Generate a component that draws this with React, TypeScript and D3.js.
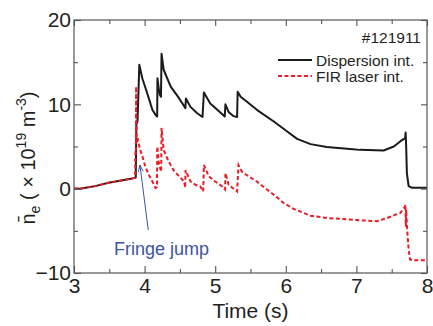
import { useEffect, useRef } from 'react';
import * as d3 from 'd3';

// ─── Data ───────────────────────────────────────────────────

const xTicks = [3, 4, 5, 6, 7, 8];
const xMinor = [3.5, 4.5, 5.5, 6.5, 7.5];
const yTicks = [-10, 0, 10, 20];
const yMinor = [-5, 5, 15];

// Dispersion interferometer (black)
const dispT = [3.0, 3.1, 3.3, 3.47, 3.65, 3.85, 3.875, 3.883, 3.9, 3.925, 3.967, 4.014, 4.06, 4.11, 4.155, 4.178, 4.182, 4.2, 4.216, 4.232, 4.24, 4.27, 4.37, 4.49, 4.578, 4.585, 4.65, 4.745, 4.82, 4.84, 4.93, 5.03, 5.135, 5.145, 5.19, 5.26, 5.31, 5.318, 5.36, 5.45, 5.59, 5.83, 6.02, 6.16, 6.35, 6.58, 6.91, 7.05, 7.385, 7.53, 7.62, 7.69, 7.697, 7.705, 7.715, 7.74, 7.79, 8.0];
const dispV = [0, 0.02, 0.3, 0.66, 0.95, 1.25, 1.35, 7.6, 8.0, 14.7, 13.1, 11.9, 10.7, 9.35, 8.75, 8.55, 13.1, 11.9, 11.1, 10.9, 16.0, 14.1, 12.1, 10.7, 9.55, 10.7, 9.7, 8.95, 8.5, 11.4, 10.1, 9.35, 8.55, 10.0, 9.1, 8.6, 8.5, 11.5, 10.9, 10.3, 9.35, 7.96, 6.78, 5.9, 5.28, 4.93, 4.69, 4.6, 4.53, 5.0, 5.6, 6.0, 6.66, 5.0, 1.85, 0.3, 0.1, 0.1];

// FIR laser interferometer (red dashed)
const firT = [3.0, 3.1, 3.3, 3.47, 3.65, 3.85, 3.866, 3.87, 3.876, 3.88, 3.885, 3.89, 3.9, 3.93, 3.97, 4.01, 4.06, 4.11, 4.155, 4.175, 4.18, 4.2, 4.215, 4.235, 4.24, 4.27, 4.32, 4.37, 4.41, 4.49, 4.56, 4.575, 4.58, 4.65, 4.72, 4.79, 4.83, 4.84, 4.91, 5.0, 5.1, 5.14, 5.145, 5.19, 5.31, 5.33, 5.38, 5.475, 5.59, 5.64, 5.83, 5.97, 6.11, 6.35, 6.6, 6.82, 7.05, 7.29, 7.43, 7.55, 7.62, 7.69, 7.695, 7.7, 7.705, 7.72, 7.74, 7.76, 7.8, 8.0];
const firV = [0, 0.02, 0.3, 0.66, 0.95, 1.25, 1.3, 4.5, 4.0, 12.1, 7.8, 5.5, 6.0, 4.8, 3.8, 2.6, 1.65, 0.85, 0.07, 0.2, 5.0, 3.2, 2.6, 2.0, 7.2, 4.6, 3.6, 2.8, 2.2, 1.45, 0.85, 0.1, 2.2, 0.86, 0.46, 0.26, -0.33, 2.8, 1.45, 0.85, 0.26, -0.1, 1.85, 0.46, -0.33, 2.8, 2.0, 1.45, 0.85, 0.5, -0.72, -1.7, -2.4, -3.2, -3.5, -3.6, -3.75, -3.85, -3.5, -3.1, -2.9, -2.1, -1.9, -4.5, -2.5, -5.0, -7.2, -8.4, -8.5, -8.5];

// ─── Constants ──────────────────────────────────────────────

const W = 433;
const H = 326;
const margin = { top: 20, right: 6, bottom: 53, left: 74 };
const FONT = '"Liberation Sans", Arial, Helvetica, sans-serif';
const AXIS_COLOR = '#555';
const TEXT_COLOR = '#231f20';
const BLACK = '#1a1a1a';
const RED = '#ec1c24';
const BLUE = '#3b53a4';

export default function App() {
  const svgRef = useRef<SVGSVGElement>(null);

  useEffect(() => {
    if (!svgRef.current) return;
    const svg = d3.select(svgRef.current);
    svg.selectAll('*').remove();

    const iw = W - margin.left - margin.right;
    const ih = H - margin.top - margin.bottom;

    const x = d3.scaleLinear().domain([3, 8]).range([0, iw]);
    const y = d3.scaleLinear().domain([-10, 20]).range([ih, 0]);

    const g = svg.append('g').attr('transform', `translate(${margin.left},${margin.top})`);

    const line = d3.line<[number, number]>()
      .x((d) => x(d[0]))
      .y((d) => y(d[1]));

    const disp = dispT.map((t, i) => [t, dispV[i]] as [number, number]);
    const fir = firT.map((t, i) => [t, firV[i]] as [number, number]);

    g.append('path')
      .datum(disp)
      .attr('fill', 'none')
      .attr('stroke', BLACK)
      .attr('stroke-width', 2)
      .attr('stroke-linejoin', 'round')
      .attr('d', line);

    g.append('path')
      .datum(fir)
      .attr('fill', 'none')
      .attr('stroke', RED)
      .attr('stroke-width', 2)
      .attr('stroke-dasharray', '4 2.5')
      .attr('d', line);

    // Axes (ticks inward, box mirrored)
    const styleAxis = (sel: d3.Selection<SVGGElement, unknown, null, undefined>) => {
      sel.select('.domain').remove();
      sel.selectAll('line').attr('stroke', AXIS_COLOR).attr('stroke-width', 1.1);
      sel.selectAll('text')
        .attr('fill', TEXT_COLOR)
        .attr('font-size', 21)
        .attr('font-family', FONT);
    };

    g.append('g').attr('transform', `translate(0,${ih})`)
      .call(d3.axisBottom(x).tickValues(xTicks).tickSize(-7).tickPadding(5).tickFormat(d3.format('d')))
      .call(styleAxis);
    g.append('g').attr('transform', `translate(0,${ih})`)
      .call(d3.axisBottom(x).tickValues(xMinor).tickSize(-4).tickFormat(() => ''))
      .call(styleAxis);
    g.append('g')
      .call(d3.axisTop(x).tickValues(xTicks).tickSize(-6).tickFormat(() => ''))
      .call(styleAxis);
    g.append('g')
      .call(d3.axisTop(x).tickValues(xMinor).tickSize(-4).tickFormat(() => ''))
      .call(styleAxis);

    g.append('g')
      .call(d3.axisLeft(y).tickValues(yTicks).tickSize(-7).tickPadding(3).tickFormat(d3.format('d')))
      .call(styleAxis);
    g.append('g')
      .call(d3.axisLeft(y).tickValues(yMinor).tickSize(-4).tickFormat(() => ''))
      .call(styleAxis);
    g.append('g').attr('transform', `translate(${iw},0)`)
      .call(d3.axisRight(y).tickValues(yTicks).tickSize(-6).tickFormat(() => ''))
      .call(styleAxis);
    g.append('g').attr('transform', `translate(${iw},0)`)
      .call(d3.axisRight(y).tickValues(yMinor).tickSize(-4).tickFormat(() => ''))
      .call(styleAxis);

    g.append('rect')
      .attr('x', 0).attr('y', 0)
      .attr('width', iw).attr('height', ih)
      .attr('fill', 'none')
      .attr('stroke', AXIS_COLOR)
      .attr('stroke-width', 1.2);

    // Axis titles
    svg.append('text')
      .attr('x', margin.left + iw / 2)
      .attr('y', 318)
      .attr('text-anchor', 'middle')
      .attr('font-family', FONT)
      .attr('font-size', 21)
      .attr('fill', TEXT_COLOR)
      .text('Time (s)');

    const yl = svg.append('text')
      .attr('transform', `translate(35,158) rotate(-90)`)
      .attr('text-anchor', 'middle')
      .attr('font-family', FONT)
      .attr('font-size', 20)
      .attr('fill', TEXT_COLOR);
    yl.append('tspan').text('n\u0304');
    yl.append('tspan').attr('font-size', 14).attr('dy', 5).text('e');
    yl.append('tspan').attr('dy', -5).text(' ( \u00d7 10');
    yl.append('tspan').attr('font-size', 14).attr('dy', -9).text('19');
    yl.append('tspan').attr('dy', 9).text(' m');
    yl.append('tspan').attr('font-size', 14).attr('dy', -9).text('-3');
    yl.append('tspan').attr('dy', 9).text(')');

    // Legend
    svg.append('text')
      .attr('x', 421).attr('y', 43)
      .attr('text-anchor', 'end')
      .attr('font-family', FONT).attr('font-size', 15.5)
      .attr('fill', TEXT_COLOR)
      .text('#121911');

    const legend = [
      { label: 'Dispersion int.', color: BLACK, dash: null, yy: 60 },
      { label: 'FIR laser int.', color: RED, dash: '4 2.5', yy: 76 },
    ];
    legend.forEach((l) => {
      svg.append('line')
        .attr('x1', 278).attr('x2', 312)
        .attr('y1', l.yy).attr('y2', l.yy)
        .attr('stroke', l.color)
        .attr('stroke-width', 2)
        .attr('stroke-dasharray', l.dash);
      svg.append('text')
        .attr('x', 316).attr('y', l.yy + 6)
        .attr('font-family', FONT).attr('font-size', 15.5)
        .attr('fill', TEXT_COLOR)
        .text(l.label);
    });

    // Fringe jump annotation
    const tip: [number, number] = [3.934, 2.8];
    const tail: [number, number] = [4.052, -4.9];
    const tx = x(tip[0]), ty = y(tip[1]);
    const sx = x(tail[0]), sy = y(tail[1]);
    const ang = Math.atan2(ty - sy, tx - sx);
    const ah = 7;
    const ag = g.append('g').attr('stroke', BLUE).attr('stroke-width', 1).attr('fill', 'none');
    ag.append('line').attr('x1', sx).attr('y1', sy).attr('x2', tx).attr('y2', ty);
    ag.append('path')
      .attr('d', `M${tx - ah * Math.cos(ang - 0.35)},${ty - ah * Math.sin(ang - 0.35)}L${tx},${ty}L${tx - ah * Math.cos(ang + 0.35)},${ty - ah * Math.sin(ang + 0.35)}`);

    g.append('text')
      .attr('x', x(3.566)).attr('y', y(-7.9))
      .attr('font-family', FONT).attr('font-size', 18)
      .attr('fill', BLUE)
      .text('Fringe jump');
  }, []);

  return (
    <svg
      ref={svgRef}
      width={W}
      height={H}
      style={{ position: 'absolute', left: 0, top: 0, background: '#fff' }}
    />
  );
}
